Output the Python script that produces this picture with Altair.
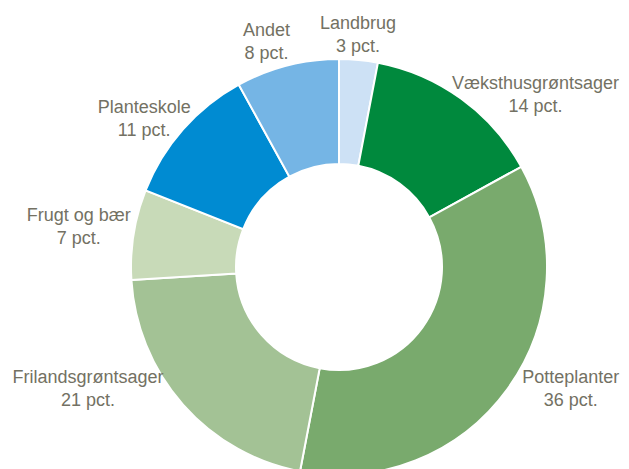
import altair as alt
import pandas as pd

categories = ["Landbrug", "Væksthusgrøntsager", "Potteplanter", "Frilandsgrøntsager",
              "Frugt og bær", "Planteskole", "Andet"]
shares = [3, 14, 36, 21, 7, 11, 8]
colors = ["#cde1f5", "#00893d", "#79aa6d", "#a3c295", "#c8dab8", "#008bd2", "#75b5e5"]

df = pd.DataFrame({"cat": categories, "val": shares, "idx": list(range(len(categories)))})

W, H = 613, 461
CX, CY = 331, 259
R_OUT, R_IN = 208, 103
R_LAB = 215
CHAR = 8.5

base = alt.Chart(df)

arcs = base.mark_arc(outerRadius=R_OUT, innerRadius=R_IN, stroke="white", strokeWidth=2).encode(
    theta=alt.Theta("val:Q", stack=True),
    order=alt.Order("idx:Q"),
    color=alt.Color("cat:N", scale=alt.Scale(domain=categories, range=colors), legend=None),
    x=alt.value(CX),
    y=alt.value(CY),
)

labels = base.transform_joinaggregate(total="sum(val)").transform_window(
    cum="sum(val)", sort=[alt.SortField("idx")], frame=[None, 0]
).transform_calculate(
    a="2*PI*(datum.cum - datum.val/2)/datum.total",
).transform_calculate(
    hw=f"length(datum.cat)*{CHAR}/2",
    nar="length(datum.cat) - length(replace(datum.cat, regexp('[iltrfj ]', 'g'), ''))",
    wid="length(datum.cat) - length(replace(datum.cat, regexp('[æmwMW]', 'g'), ''))",
    s="sin(datum.a)",
    c="cos(datum.a)",
).transform_calculate(
    hw2="((length(datum.cat) - datum.nar)*10 + datum.nar*5.5 + datum.wid*6)/2",
    sg="datum.s > 0 ? 1 : -1",
    top="clamp((datum.c - 0.85)*8, 0, 1)",
).transform_calculate(
    lx0=(f"{CX} + {R_LAB}*datum.s"
         " + datum.hw*clamp(datum.sg*(abs(datum.s)-0.1)*6, -1, 1)"
         " + (datum.c < 0.7 ? -20*datum.c*datum.sg : 0)"
         " + (datum.c < 0 && datum.s > 0 ? 4 : 0)"),
    ly=(f"min({CY} - {R_LAB}*datum.c - 20*datum.top"
        " - (datum.c > 0 && datum.c < 0.8 ? 8 : 0), 379) - 9"),
    txt="datum.cat + '|' + datum.val + ' pct.'",
).transform_calculate(
    lx=f"min(datum.lx0, {W} - datum.hw2 - 1.5)",
).mark_text(
    lineBreak="|", fontSize=18, lineHeight=23, align="center", baseline="middle",
    font="Liberation Sans, Arial, sans-serif",
    color="#737163",
).encode(
    x=alt.X("lx:Q", scale=alt.Scale(domain=[0, W], nice=False, zero=False), axis=None),
    y=alt.Y("ly:Q", scale=alt.Scale(domain=[H, 0], nice=False, zero=False), axis=None),
    text="txt:N",
)

chart = alt.layer(arcs, labels).properties(
    width=W, height=H, autosize=alt.AutoSizeParams(type="none"), padding=0
).configure_view(stroke=None)

chart.save("out.html", embed_options={"renderer": "svg", "actions": False})
